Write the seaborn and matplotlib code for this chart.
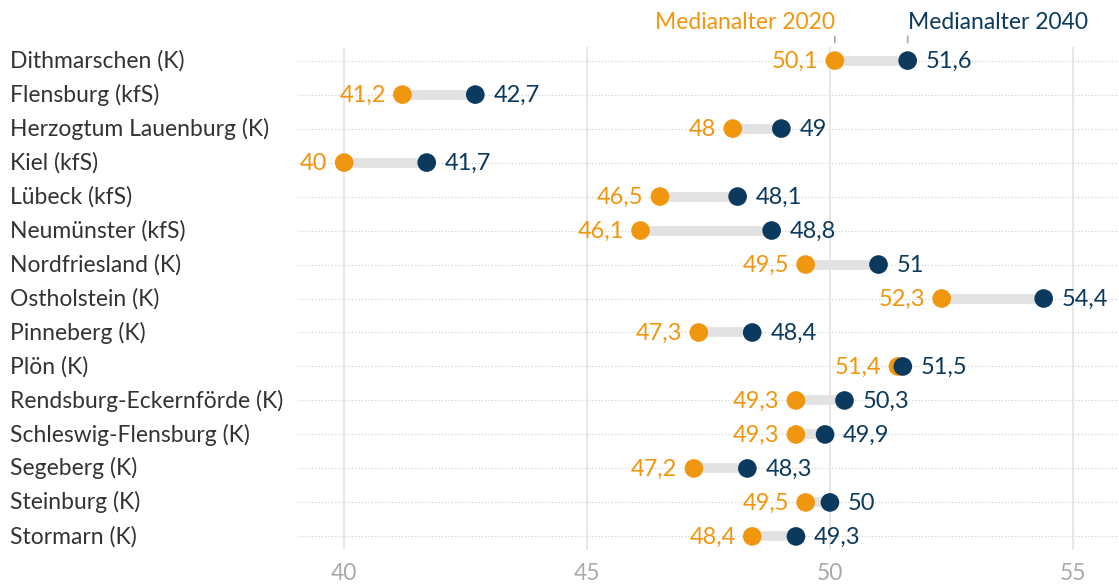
import pandas as pd
import numpy as np
import seaborn as sns
import matplotlib.pyplot as plt

regions = ['Dithmarschen (K)', 'Flensburg (kfS)', 'Herzogtum Lauenburg (K)', 'Kiel (kfS)',
           'Lübeck (kfS)', 'Neumünster (kfS)', 'Nordfriesland (K)', 'Ostholstein (K)',
           'Pinneberg (K)', 'Plön (K)', 'Rendsburg-Eckernförde (K)', 'Schleswig-Flensburg (K)',
           'Segeberg (K)', 'Steinburg (K)', 'Stormarn (K)']
median_2020 = [50.1, 41.2, 48, 40, 46.5, 46.1, 49.5, 52.3, 47.3, 51.4, 49.3, 49.3, 47.2, 49.5, 48.4]
median_2040 = [51.6, 42.7, 49, 41.7, 48.1, 48.8, 51, 54.4, 48.4, 51.5, 50.3, 49.9, 48.3, 50, 49.3]
x_ticks = [40, 45, 50, 55]

orange = '#F0960F'
navy = '#0B3A5E'

sns.set_style('white')
plt.rcParams['font.family'] = ['Lato', 'DejaVu Sans']

df = pd.DataFrame({'region': regions, 'v2020': median_2020, 'v2040': median_2040})
df['pos'] = np.arange(len(df))
long_df = df.melt(id_vars=['region', 'pos'], value_vars=['v2020', 'v2040'],
                  var_name='year', value_name='value')

fig = plt.figure(figsize=(11.19, 5.84), dpi=100)
ax = fig.add_axes([0.2663, 0.0582, 0.7337, 0.8613])

# Gitterlinien
for i in df['pos']:
    ax.axhline(i, color='#cccccc', linestyle=(0, (1, 2)), linewidth=0.8, zorder=0)
for t in x_ticks:
    ax.axvline(t, color='#e3e3e3', linewidth=1.2, zorder=0)

# Verbindungslinien
ax.hlines(df['pos'], df['v2020'], df['v2040'], color='#e2e2e2', linewidth=7, zorder=1)

sns.scatterplot(data=long_df, x='value', y='pos', hue='year',
                palette={'v2020': orange, 'v2040': navy}, s=180, linewidth=0,
                legend=False, zorder=3, ax=ax)

def fmt(v):
    return f'{v:g}'.replace('.', ',')

fs = 17
for _, r in df.iterrows():
    ax.annotate(fmt(r['v2020']), (r['v2020'], r['pos']), xytext=(-12, -0.5),
                textcoords='offset points', ha='right', va='center',
                color=orange, fontsize=fs)
    ax.annotate(fmt(r['v2040']), (r['v2040'], r['pos']), xytext=(13, -0.5),
                textcoords='offset points', ha='left', va='center',
                color=navy, fontsize=fs)

# Legende direkt an der ersten Zeile
first = df.iloc[0]
for val, col, ha, label in [(first['v2020'], orange, 'right', 'Medianalter 2020'),
                            (first['v2040'], navy, 'left', 'Medianalter 2040')]:
    ax.annotate('', xy=(val, -0.45), xytext=(val, -0.8),
                arrowprops=dict(arrowstyle='-', color='#aaaaaa', lw=1.2),
                annotation_clip=False)
    ax.text(val, -1.13, label, color=col, fontsize=16.5, ha=ha, va='center', clip_on=False)

ax.set_xlim(39.05, 55.95)
ax.set_ylim(14.4, -0.4)
ax.set_xticks(x_ticks)
ax.set_yticks(df['pos'])
ax.set_yticklabels(regions)
ax.tick_params(axis='y', length=0, labelsize=16.5, labelcolor='#333333', pad=0)
ax.tick_params(axis='x', length=0, labelsize=16.5, labelcolor='#aaaaaa', pad=9)
for lbl in ax.get_yticklabels():
    lbl.set_horizontalalignment('left')
    lbl.set_verticalalignment('center')
    lbl.set_x(-0.2663 / 0.7337 + 0.009 / 0.7337)
ax.set_xlabel('')
ax.set_ylabel('')
sns.despine(left=True, bottom=True)

plt.savefig('out.png', dpi=100)
